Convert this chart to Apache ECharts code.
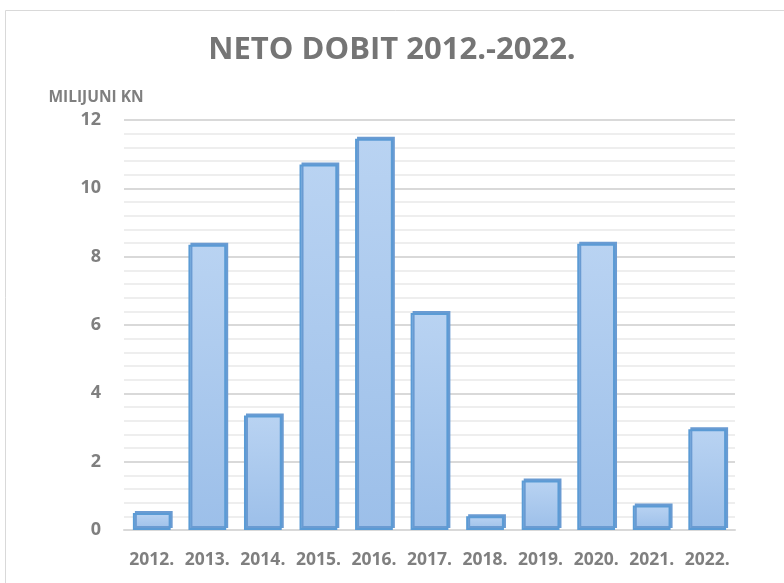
<!DOCTYPE html>
<html><head><meta charset="utf-8">
<script src="https://cdn.jsdelivr.net/npm/echarts@6/dist/echarts.min.js"></script>
<style>html,body{margin:0;padding:0;background:#fff}#c{width:784px;height:583px}</style>
</head><body><div id="c"></div>
<script>
var categories = ['2012.','2013.','2014.','2015.','2016.','2017.','2018.','2019.','2020.','2021.','2022.'];
var values = [0.5, 8.35, 3.35, 10.7, 11.45, 6.35, 0.4, 1.45, 8.38, 0.72, 2.95];
var titleText = 'NETO DOBIT 2012.-2022.';
var yAxisName = 'MILIJUNI KN';

var chart = echarts.init(document.getElementById('c'));
var font = '"Open Sans", sans-serif';
chart.setOption({
  animation: false,
  backgroundColor: '#fff',
  graphic: [{type:'rect', shape:{x:5.5,y:10.5,width:800,height:600}, style:{fill:'none',stroke:'#d9d9d9',lineWidth:1}, silent:true}],
  title: {text: titleText, left: 'center', top: 30,
    textStyle:{fontFamily: font, fontWeight:'bold', fontSize:31, color:'#757575'}},
  grid: {left:124, right:49, top:120, bottom:53},
  xAxis: {type:'category', data: categories,
    axisLine:{lineStyle:{color:'#d9d9d9', width:2}},
    axisTick:{show:false},
    axisLabel:{interval:0, margin:21, fontFamily: font, fontWeight:'bold', fontSize:17.5, color:'#7f7f7f'}},
  yAxis: {type:'value', min:0, max:12, interval:2,
    name: yAxisName, nameLocation:'end', nameGap:14,
    nameTextStyle:{fontFamily: font, fontWeight:'bold', fontSize:15.5, color:'#7f7f7f', align:'center', padding:[0,0,0,-56]},
    axisLine:{show:false}, axisTick:{show:false},
    axisLabel:{margin:23, fontFamily: font, fontWeight:'bold', fontSize:18, color:'#7f7f7f'},
    splitLine:{lineStyle:{color:'#d9d9d9', width:2}},
    minorTick:{show:false, splitNumber:5},
    minorSplitLine:{show:true, lineStyle:{color:'#eeeeee', width:2}}},
  series: [{type:'bar', data: values, barCategoryGap:'32%',
    itemStyle:{
      color: new echarts.graphic.LinearGradient(0,0,0,1,[{offset:0,color:'#b9d3f2'},{offset:1,color:'#9cbfe9'}]),
      borderColor:'#5b9bd5', borderWidth:2,
      shadowColor:'#6a9bd2', shadowOffsetX:2, shadowOffsetY:-2, shadowBlur:0
    }}]
});
</script></body></html>
